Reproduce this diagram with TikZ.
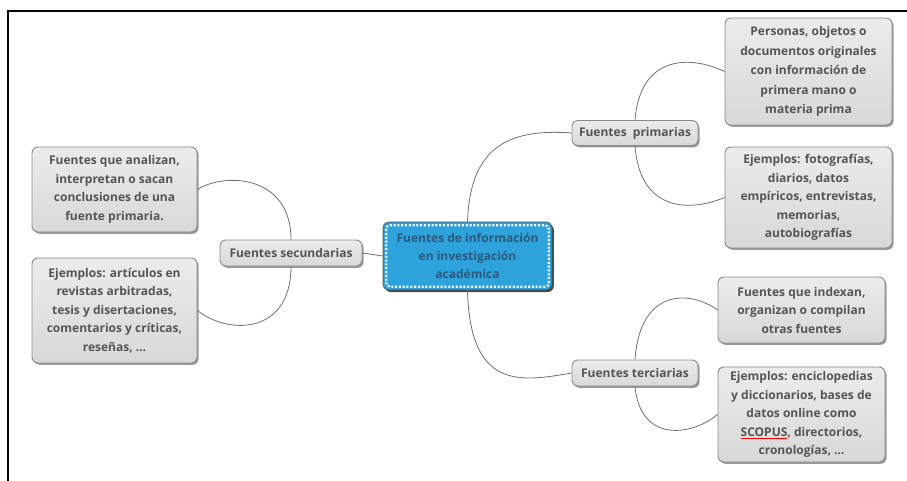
\documentclass[tikz,border=0pt]{standalone}
\usepackage{fontspec}
\setmainfont{Open Sans}
\usetikzlibrary{shadows,calc}
\definecolor{txtgray}{HTML}{555555}
\definecolor{boxfill}{HTML}{D8D8D8}
\definecolor{boxline}{HTML}{8A8A8A}
\definecolor{centralblue}{HTML}{2EA2DA}
\definecolor{centraltxt}{HTML}{2A5A80}
\definecolor{linkgray}{HTML}{707070}
\newcommand\redwave[1]{\sbox0{#1}\rlap{\textcolor{red}{\rule[-0.45ex]{\wd0}{0.7pt}}}#1}
\tikzset{
  leafbox/.style={draw=boxline, line width=0.9pt, top color=boxfill!50!white, bottom color=boxfill,
    rounded corners=6pt, align=center, text=txtgray, font=\fontsize{12}{18.5}\selectfont\bfseries,
    inner sep=2pt, drop shadow={shadow xshift=1.6pt, shadow yshift=-1.8pt, fill=black!50, opacity=0.8}},
  branchbox/.style={leafbox, rounded corners=6pt},
  rootbox/.style={fill=centralblue, draw=black!70, line width=0.6pt, rounded corners=6pt, align=center,
    text=centraltxt, font=\fontsize{12}{18}\selectfont\bfseries, inner sep=2pt,
    drop shadow={shadow xshift=1.8pt, shadow yshift=-2pt, fill=black!80, opacity=0.9}},
  link/.style={draw=linkgray, line width=0.8pt},
  framestyle/.style={line width=2pt, black}
}
\begin{document}
\begin{tikzpicture}[x=1pt, y=-1pt]
\useasboundingbox (0,0) rectangle (907,480);
\draw[framestyle] (8,481) -- (8,11) -- (908,11);

% root
\node[rootbox, minimum width=169pt, minimum height=68pt] (C) at (467.5,256)
  {Fuentes de información\\ en investigación\\ académica};
\draw[white, line width=2.2pt, dash pattern=on 2pt off 1.8pt, rounded corners=4pt]
  ($(C.north west)+(3.5,3.5)$) rectangle ($(C.south east)+(-3.5,-3.5)$);

% branches
\node[branchbox, minimum width=142pt, minimum height=26pt] (S) at (291,253) {Fuentes secundarias};
\node[branchbox, minimum width=126pt, minimum height=25pt] (P) at (635,133) {Fuentes\ \ primarias};
\node[branchbox, minimum width=126pt, minimum height=26pt] (T) at (635,373) {Fuentes terciarias};

% leaves
\node[leafbox, minimum width=165pt, minimum height=85pt] (S1) at (114.5,189.5)
  {Fuentes que analizan,\\ interpretan o sacan\\ conclusiones de una\\ fuente primaria.};
\node[leafbox, minimum width=165pt, minimum height=105pt] (S2) at (114.5,310.5)
  {Ejemplos: artículos en\\ revistas arbitradas,\\ tesis y disertaciones,\\ comentarios y críticas,\\ reseñas, …};
\node[leafbox, minimum width=167pt, minimum height=107pt, font=\fontsize{12}{19.5}\selectfont\bfseries] (P1) at (808.5,71.5)
  {Personas, objetos o\\ documentos originales\\ con información de\\ primera mano o\\ materia prima};
\node[leafbox, minimum width=167pt, minimum height=101pt] (P2) at (808.5,197.5)
  {Ejemplos: fotografías,\\ diarios, datos\\ empíricos, entrevistas,\\ memorias,\\ autobiografías};
\node[leafbox, minimum width=167pt, minimum height=66pt] (T1) at (801.5,310)
  {Fuentes que indexan,\\ organizan o compilan\\ otras fuentes};
\node[leafbox, minimum width=167pt, minimum height=95pt] (T2) at (801.5,414.5)
  {Ejemplos: enciclopedias\\ y diccionarios, bases de\\ datos online como\\ \redwave{SCOPUS}, directorios,\\ cronologías, …};

% connectors
\draw[link] (C.west) -- (S.east);
\draw[link] (C.north) .. controls (470,150) and (505,128) .. (P.west);
\draw[link] (C.south) .. controls (470,390) and (520,382) .. (T.west);
\draw[link] (S.north) .. controls (291,175) and (225,172) .. (S1.east);
\draw[link] (S.south) .. controls (291,335) and (228,335) .. (S2.east);
\draw[link] (P.north) .. controls (640,55) and (690,55) .. (P1.west);
\draw[link] (P.south) .. controls (640,212) and (690,212) .. (P2.west);
\draw[link] (T.north) .. controls (640,288) and (690,290) .. (T1.west);
\draw[link] (T.south) .. controls (640,442) and (690,437) .. (T2.west);
\end{tikzpicture}
\end{document}
